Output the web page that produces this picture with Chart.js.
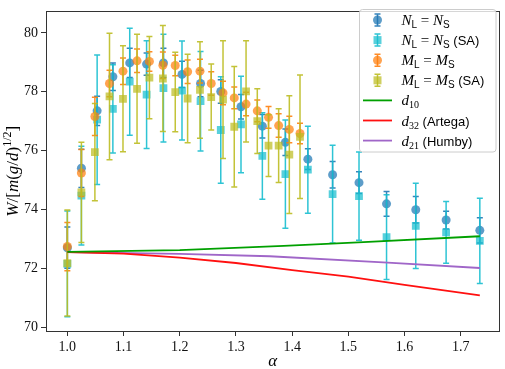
<!DOCTYPE html>
<html><head><meta charset="utf-8">
<script src="https://cdn.jsdelivr.net/npm/chart.js@4"></script>
<style>html,body{margin:0;padding:0;background:#fff}#wrap{width:505px;height:369px}</style>
</head><body><div id="wrap"><canvas id="c" width="505" height="369"></canvas></div>
<script>
// ---- data ----
const alphaN = [1.0, 1.025, 1.053, 1.081, 1.111, 1.141, 1.171, 1.204, 1.237, 1.273, 1.309, 1.347, 1.388, 1.428, 1.472, 1.519, 1.568, 1.620, 1.674, 1.734];
const wN     = [72.7, 75.40, 77.35, 78.51, 78.98, 78.94, 78.98, 78.59, 78.28, 78.01, 77.49, 76.83, 76.28, 75.71, 75.18, 74.91, 74.19, 73.99, 73.64, 73.29];
const errN   = [0.7, 0.65, 0.5, 0.47, 0.5, 0.38, 0.5, 0.45, 0.45, 0.4, 0.42, 0.4, 0.45, 0.35, 0.45, 0.37, 0.42, 0.45, 0.3, 0.43];
const wNSA   = [72.15, 74.47, 77.05, 77.42, 78.34, 77.9, 78.12, 78.04, 77.68, 76.70, 76.89, 75.82, 75.2, 75.35, 74.52, 74.45, 73.06, 73.44, 73.22, 72.93];
const errNSA = [1.8, 1.68, 2.2, 1.5, 1.82, 1.83, 1.83, 1.68, 1.69, 1.81, 1.64, 1.47, 1.84, 1.48, 1.66, 1.5, 1.44, 1.45, 1.05, 1.45];

const alphaM = [1.0, 1.025, 1.049, 1.075, 1.099, 1.124, 1.146, 1.170, 1.192, 1.214, 1.236, 1.256, 1.277, 1.297, 1.318, 1.338, 1.358, 1.376, 1.395, 1.414];
const wM     = [72.74, 75.24, 77.16, 78.28, 78.70, 79.05, 79.03, 78.9, 78.89, 78.68, 78.70, 78.28, 77.96, 77.79, 77.58, 77.35, 77.13, 76.85, 76.72, 76.58];
const errM   = [0.82, 0.8, 0.65, 0.45, 0.45, 0.4, 0.33, 0.45, 0.35, 0.4, 0.4, 0.4, 0.4, 0.37, 0.4, 0.37, 0.37, 0.4, 0.45, 0.35];
const wMSA   = [72.18, 74.58, 75.95, 77.84, 77.76, 78.10, 78.48, 78.45, 77.99, 77.77, 78.06, 77.82, 77.73, 76.81, 78.01, 77.0, 76.17, 76.17, 75.86, 76.47];
const errMSA = [1.8, 1.7, 1.65, 2.15, 1.8, 1.85, 1.4, 1.8, 1.35, 1.5, 1.64, 1.12, 2.0, 2.05, 1.72, 1.1, 1.05, 1.25, 2.0, 2.1];

const d10X = [1.0, 1.2, 1.385, 1.527, 1.734];
const d10Y = [72.56, 72.62, 72.76, 72.89, 73.09];
const d32X = [1.0, 1.1, 1.2, 1.3, 1.4, 1.5, 1.6, 1.734];
const d32Y = [72.55, 72.50, 72.36, 72.18, 71.94, 71.72, 71.44, 71.08];
const d21X = [1.0, 1.2, 1.36, 1.57, 1.734];
const d21Y = [72.55, 72.49, 72.41, 72.19, 72.01];

const xTicks = [1.0, 1.1, 1.2, 1.3, 1.4, 1.5, 1.6, 1.7];
const yTicks = [70, 72, 74, 76, 78, 80];

// ---- styles ----
const C = {blue:'#1f77b4', cyan:'#17becf', orange:'#ff7f0e', olive:'#bcbd22', green:'#00a000', red:'#ff1010', purple:'#a066c8'};
function rgba(hex,a){const n=parseInt(hex.slice(1),16);return `rgba(${n>>16&255},${n>>8&255},${n&255},${a})`;}
function pts(xs,ys){return xs.map((x,i)=>({x:x,y:ys[i]}));}

function errSet(label, xs, ys, es, col, style, order){
  return {type:'scatter', label:label, data:pts(xs,ys), errors:es, errColor:rgba(col,0.9),
    pointStyle:style, pointRadius: style==='circle'?4.5:5.5, pointHoverRadius: style==='circle'?4.5:5.5,
    backgroundColor:rgba(col,0.72), borderColor:rgba(col,0.72), borderWidth:0, order:order};
}
function lineSet(label, xs, ys, col){
  return {type:'line', label:label, data:pts(xs,ys), borderColor:col, backgroundColor:col,
    borderWidth:1.8, pointRadius:0, showLine:true, fill:false, tension:0, order:0};
}

const errorBarPlugin = {
  id:'errbars',
  beforeDatasetDraw(chart, args){
    const ds = chart.data.datasets[args.index];
    if(!ds.errors) return;
    const xs = chart.scales.x, ys = chart.scales.y, ctx = chart.ctx;
    ctx.save();
    ctx.strokeStyle = ds.errColor; ctx.lineWidth = 1.5;
    ds.data.forEach((p,i)=>{
      const e = ds.errors[i];
      const px = xs.getPixelForValue(p.x);
      const y1 = ys.getPixelForValue(p.y+e), y2 = ys.getPixelForValue(p.y-e);
      ctx.beginPath();
      ctx.moveTo(px,y1); ctx.lineTo(px,y2);
      ctx.moveTo(px-3,y1); ctx.lineTo(px+3,y1);
      ctx.moveTo(px-3,y2); ctx.lineTo(px+3,y2);
      ctx.stroke();
    });
    ctx.restore();
  }
};

const SERIF = '"Liberation Serif", "DejaVu Serif", serif';
const SANS = '"Liberation Sans", "DejaVu Sans", sans-serif';
const fIt = 'italic 15px ' + SERIF;
const fRm = '15px ' + SERIF;
const fSubSans = '10px ' + SANS;
const fSubSerif = '10px ' + SERIF;
const fSans = '13px ' + SANS;
const fYIt = 'italic 17px ' + SERIF;
const fYRm = '17px ' + SERIF;
const fYSup = '12px ' + SERIF;

function runsWidth(ctx, runs){let w=0;runs.forEach(r=>{ctx.font=r.f;w+=ctx.measureText(r.t).width;});return w;}
function drawRuns(ctx, runs, x, y){
  runs.forEach(r=>{ctx.font=r.f; ctx.fillText(r.t, x, y+(r.dy||0)); x+=ctx.measureText(r.t).width;});
}

const legendItems = [
  {kind:'err', col:C.blue, style:'circle', runs:[{t:'N',f:fIt},{t:'L',f:fSubSans,dy:3},{t:' = ',f:fRm},{t:'N',f:fIt},{t:'S',f:fSubSans,dy:3}]},
  {kind:'err', col:C.cyan, style:'rect', runs:[{t:'N',f:fIt},{t:'L',f:fSubSans,dy:3},{t:' = ',f:fRm},{t:'N',f:fIt},{t:'S',f:fSubSans,dy:3},{t:' (SA)',f:fSans}]},
  {kind:'err', col:C.orange, style:'circle', runs:[{t:'M',f:fIt},{t:'L',f:fSubSans,dy:3},{t:' = ',f:fRm},{t:'M',f:fIt},{t:'S',f:fSubSans,dy:3}]},
  {kind:'err', col:C.olive, style:'rect', runs:[{t:'M',f:fIt},{t:'L',f:fSubSans,dy:3},{t:' = ',f:fRm},{t:'M',f:fIt},{t:'S',f:fSubSans,dy:3},{t:' (SA)',f:fSans}]},
  {kind:'line', col:C.green, runs:[{t:'d',f:fIt},{t:'10',f:fSubSerif,dy:3}]},
  {kind:'line', col:C.red, runs:[{t:'d',f:fIt},{t:'32',f:fSubSerif,dy:3},{t:' (Artega)',f:fSans}]},
  {kind:'line', col:C.purple, runs:[{t:'d',f:fIt},{t:'21',f:fSubSerif,dy:3},{t:' (Humby)',f:fSans}]}
];

function roundRect(ctx,x,y,w,h,r){ctx.beginPath();ctx.moveTo(x+r,y);ctx.lineTo(x+w-r,y);ctx.quadraticCurveTo(x+w,y,x+w,y+r);ctx.lineTo(x+w,y+h-r);ctx.quadraticCurveTo(x+w,y+h,x+w-r,y+h);ctx.lineTo(x+r,y+h);ctx.quadraticCurveTo(x,y+h,x,y+h-r);ctx.lineTo(x,y+r);ctx.quadraticCurveTo(x,y,x+r,y);ctx.closePath();}

const decorPlugin = {
  id:'decor',
  afterDatasetsDraw(chart){
    const ctx = chart.ctx, a = chart.chartArea;
    ctx.save();
    ctx.strokeStyle = '#333'; ctx.lineWidth = 1;
    ctx.strokeRect(Math.round(a.left)+0.5, Math.round(a.top)+0.5, Math.round(a.right-a.left)-1, Math.round(a.bottom-a.top));
    ctx.restore();
  },
  afterDraw(chart){
    const ctx = chart.ctx, a = chart.chartArea;
    ctx.save();
    // legend box
    ctx.fillStyle = 'rgba(255,255,255,0.8)';
    ctx.strokeStyle = '#cccccc'; ctx.lineWidth = 1;
    roundRect(ctx, 359.5, 9.5, 136.5, 142.5, 3);
    ctx.fill(); ctx.stroke();
    ctx.textBaseline = 'alphabetic'; ctx.fillStyle = '#000';
    legendItems.forEach((it,i)=>{
      const y = 20 + i*20.1;
      if(it.kind==='err'){
        ctx.strokeStyle = rgba(it.col,0.9); ctx.lineWidth = 1.5;
        const mx = 377.5;
        ctx.beginPath(); ctx.moveTo(mx,y-6); ctx.lineTo(mx,y+6);
        ctx.moveTo(mx-3,y-6); ctx.lineTo(mx+3,y-6); ctx.moveTo(mx-3,y+6); ctx.lineTo(mx+3,y+6); ctx.stroke();
        ctx.fillStyle = rgba(it.col,0.72);
        if(it.style==='circle'){ctx.beginPath();ctx.arc(mx,y,4.5,0,Math.PI*2);ctx.fill();}
        else {ctx.fillRect(mx-4,y-4,8,8);}
      } else {
        ctx.strokeStyle = it.col; ctx.lineWidth = 1.8;
        ctx.beginPath(); ctx.moveTo(363,y); ctx.lineTo(392,y); ctx.stroke();
      }
      ctx.fillStyle = '#000';
      drawRuns(ctx, it.runs, 401.5, y+5);
    });
    // x title
    ctx.font = 'italic 17px ' + SERIF; ctx.textAlign='center'; ctx.textBaseline='middle';
    ctx.fillText('α', (a.left+a.right)/2, 362);
    // y title
    const yr = [{t:'W',f:fYIt},{t:'/[',f:fYRm},{t:'m',f:fYIt},{t:'(',f:fYRm},{t:'g',f:fYIt},{t:'/',f:fYRm},{t:'d',f:fYIt},{t:')',f:fYRm},{t:'1/2',f:fYSup,dy:-7},{t:']',f:fYRm}];
    ctx.textAlign='left'; ctx.textBaseline='alphabetic';
    const w = runsWidth(ctx, yr);
    ctx.translate(18, (a.top+a.bottom)/2 + w/2);
    ctx.rotate(-Math.PI/2);
    drawRuns(ctx, yr, 0, 0);
    ctx.restore();
  }
};

new Chart(document.getElementById('c'), {
  type:'scatter',
  data:{datasets:[
    errSet('N_L = N_S', alphaN, wN, errN, C.blue, 'circle', 4),
    errSet('N_L = N_S (SA)', alphaN, wNSA, errNSA, C.cyan, 'rect', 3),
    errSet('M_L = M_S', alphaM, wM, errM, C.orange, 'circle', 2),
    errSet('M_L = M_S (SA)', alphaM, wMSA, errMSA, C.olive, 'rect', 1),
    lineSet('d10', d10X, d10Y, C.green),
    lineSet('d32 (Artega)', d32X, d32Y, C.red),
    lineSet('d21 (Humby)', d21X, d21Y, C.purple)
  ]},
  options:{
    responsive:false, animation:false, devicePixelRatio:1,
    layout:{padding:{top:2, right:3, left:0, bottom:0}},
    plugins:{legend:{display:false}, tooltip:{enabled:false}, title:{display:false}},
    scales:{
      x:{type:'linear', min:0.962, max:1.769,
        afterBuildTicks:s=>{s.ticks = xTicks.map(v=>({value:v}));},
        afterFit:s=>{s.height = 38;},
        ticks:{callback:v=>Number(v).toFixed(1), font:{family:SERIF, size:14}, color:'#111', padding:3, maxRotation:0, autoSkip:false},
        grid:{display:true, drawOnChartArea:false, drawTicks:true, tickLength:5, color:'#333', tickWidth:1},
        border:{display:true, color:'#333'}},
      y:{type:'linear', min:69.87, max:80.73,
        afterBuildTicks:s=>{s.ticks = yTicks.map(v=>({value:v}));},
        afterFit:s=>{s.width = 46;},
        ticks:{callback:v=>String(v), font:{family:SERIF, size:14}, color:'#111', padding:3, autoSkip:false},
        grid:{display:true, drawOnChartArea:false, drawTicks:true, tickLength:5, color:'#333', tickWidth:1},
        border:{display:true, color:'#333'}}
    }
  },
  plugins:[errorBarPlugin, decorPlugin]
});
</script></body></html>
